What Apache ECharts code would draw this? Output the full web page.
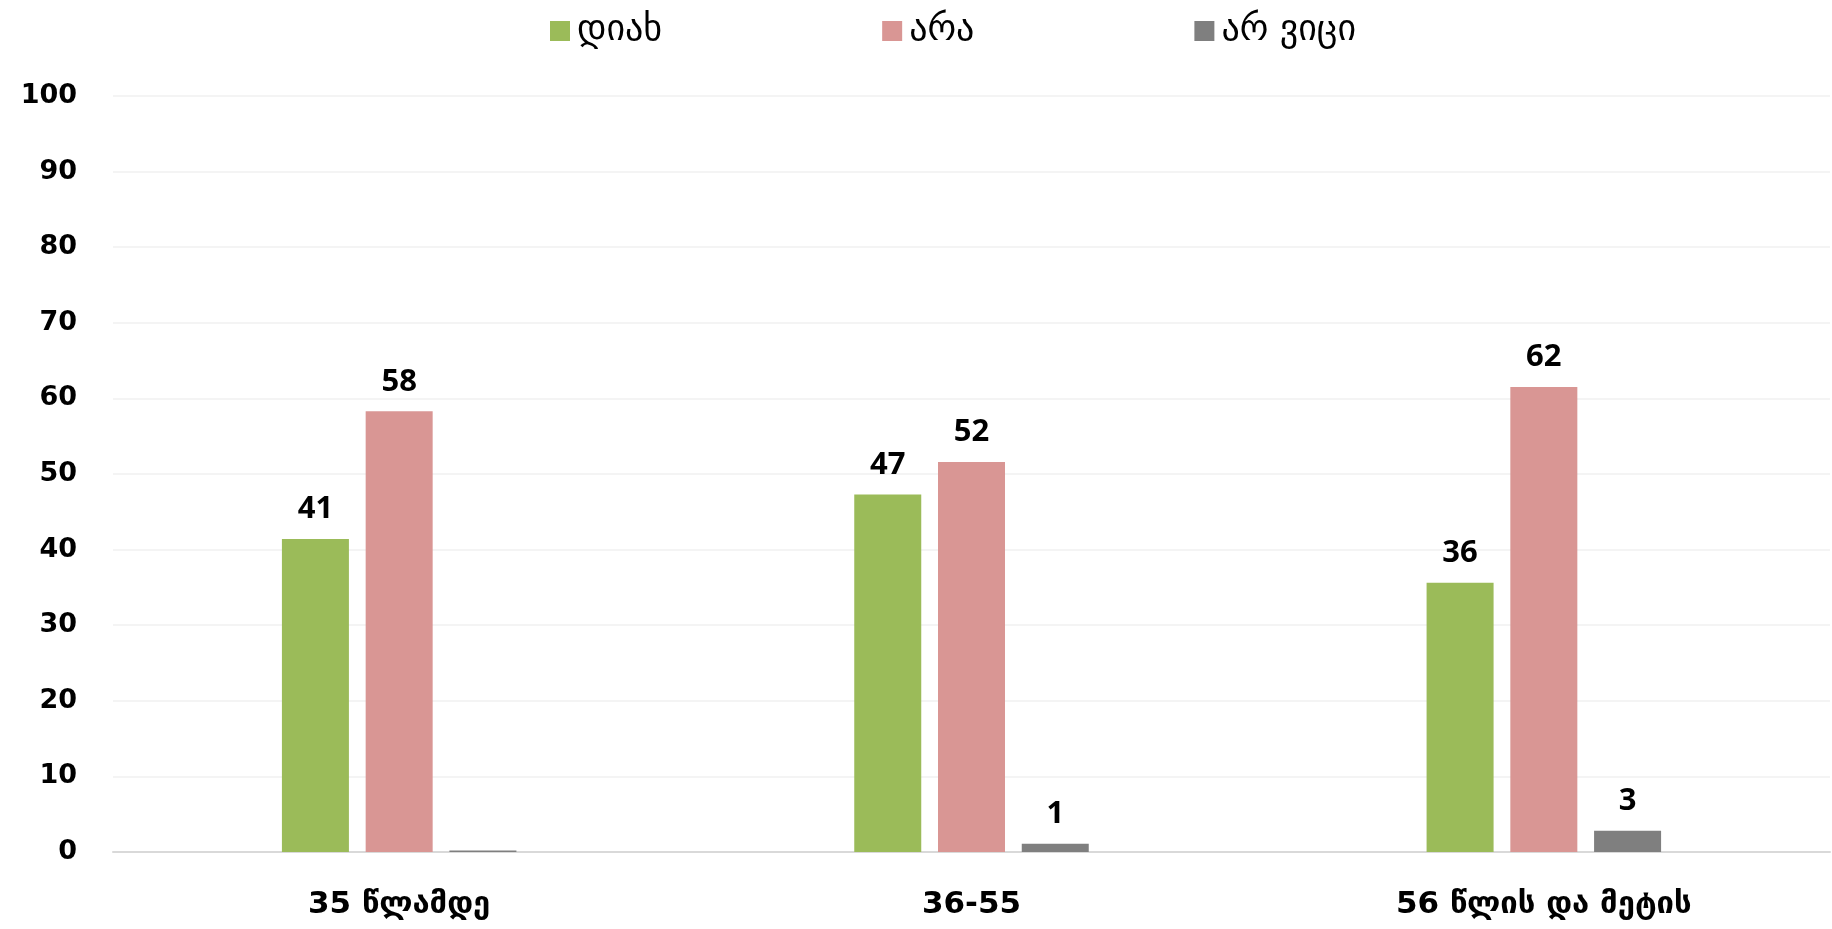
<!DOCTYPE html>
<html>
<head>
<meta charset="utf-8">
<script src="https://cdn.jsdelivr.net/npm/echarts@6/dist/echarts.min.js"></script>
<style>
html,body{margin:0;padding:0;background:#fff;}
#chart{width:1832px;height:929px;}
</style>
</head>
<body>
<div id="chart"></div>
<script>
const categories = ['35 წლამდე', '36-55', '56 წლის და მეტის'];
const seriesNames = ['დიახ', 'არა', 'არ ვიცი'];
const yesValues = [41.4, 47.3, 35.6];
const noValues = [58.3, 51.6, 61.5];
const dkValues = [0.2, 1.1, 2.8];
const yTicks = [0, 10, 20, 30, 40, 50, 60, 70, 80, 90, 100];

const colors = ['#9BBB59', '#D99694', '#7F7F7F'];
const geoFont = '"DejaVu Sans", sans-serif';

function makeSeries(name, data, color) {
  return {
    name: name,
    type: 'bar',
    data: data,
    barWidth: 67,
    barGap: '25%',
    itemStyle: { color: color },
    label: {
      show: true,
      position: 'top',
      distance: 14,
      fontFamily: '"Open Sans", sans-serif',
      fontWeight: 'bold',
      fontSize: 31,
      color: '#000',
      formatter: function (p) {
        return p.value < 0.5 ? '' : String(Math.round(p.value));
      }
    }
  };
}

const chart = echarts.init(document.getElementById('chart'), null, { renderer: 'canvas' });
chart.setOption({
  animation: false,
  backgroundColor: '#fff',
  color: colors,
  legend: {
    top: 8,
    left: 545,
    itemWidth: 20,
    itemHeight: 20,
    itemGap: 220,
    icon: 'rect',
    textStyle: { fontFamily: geoFont, fontSize: 36, color: '#000', padding: [0, 0, 0, 2] },
    data: seriesNames
  },
  grid: { left: 113, right: 2, top: 96, bottom: 77, containLabel: false },
  xAxis: {
    type: 'category',
    data: categories,
    axisLine: { lineStyle: { color: '#D9D9D9', width: 2 } },
    axisTick: { show: false },
    axisLabel: {
      fontFamily: geoFont,
      fontWeight: 'bold',
      fontSize: 31,
      color: '#000',
      margin: 37
    }
  },
  yAxis: {
    type: 'value',
    min: 0,
    max: 100,
    interval: 10,
    axisLine: { show: false },
    axisTick: { show: false },
    splitLine: { lineStyle: { color: '#F0F0F0', width: 1.5 } },
    axisLabel: {
      fontFamily: '"DejaVu Sans", sans-serif',
      fontWeight: 'bold',
      fontSize: 27,
      color: '#000',
      margin: 36,
      formatter: function (v) { return yTicks.indexOf(v) >= 0 ? String(v) : ''; }
    }
  },
  series: [
    makeSeries(seriesNames[0], yesValues, colors[0]),
    makeSeries(seriesNames[1], noValues, colors[1]),
    makeSeries(seriesNames[2], dkValues, colors[2])
  ]
});
</script>
</body>
</html>
